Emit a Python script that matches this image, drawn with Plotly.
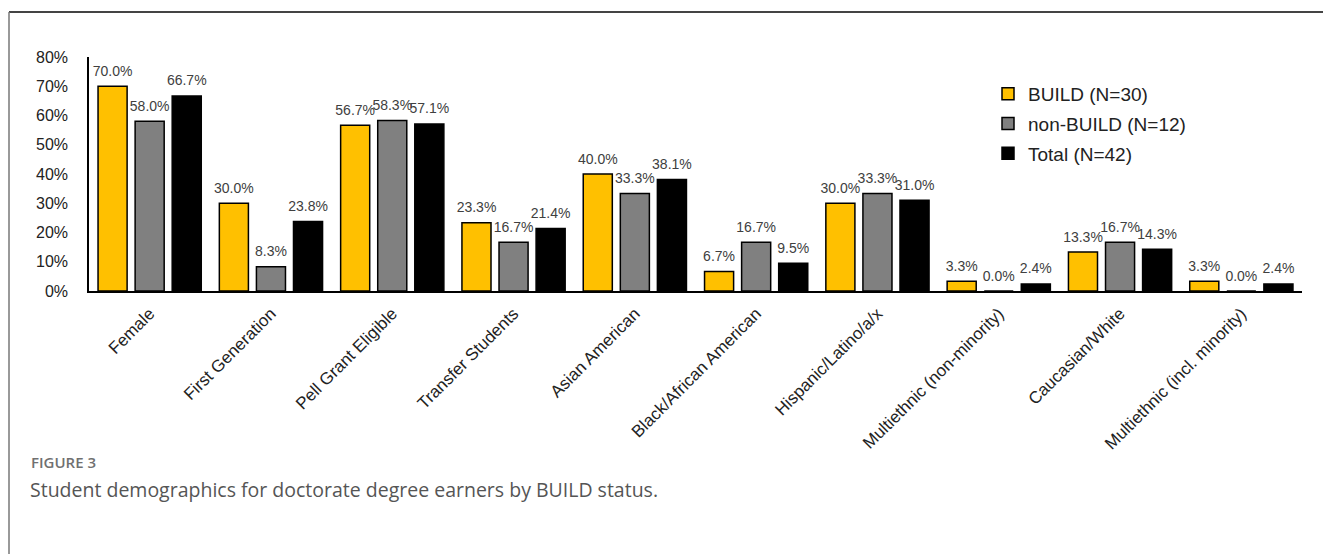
import plotly.graph_objects as go

categories = ["Female", "First Generation", "Pell Grant Eligible", "Transfer Students",
              "Asian American", "Black/African American", "Hispanic/Latino/a/x",
              "Multiethnic (non-minority)", "Caucasian/White", "Multiethnic (incl. minority)"]
build = [0.700, 0.300, 0.567, 0.233, 0.400, 0.067, 0.300, 0.033, 0.133, 0.033]
non_build = [0.580, 0.083, 0.583, 0.167, 0.333, 0.167, 0.333, 0.000, 0.167, 0.000]
total = [0.667, 0.238, 0.571, 0.214, 0.381, 0.095, 0.310, 0.024, 0.143, 0.024]
series_names = ["BUILD (N=30)", "non-BUILD (N=12)", "Total (N=42)"]
series_values = [build, non_build, total]
series_colors = ["#FFC000", "#808080", "#000000"]

W, H = 1323, 554
ML, MR, MT, MB = 89, 21, 57, 263
PW, PH = W - ML - MR, H - MT - MB

def px(x):
    return (x - ML) / PW

def py(y):
    return (MT + PH - y) / PH

fig = go.Figure()
for i, (name, vals, col) in enumerate(zip(series_names, series_values, series_colors)):
    fig.add_trace(go.Bar(
        x=categories, y=vals, name=name, legendgroup=str(i),
        marker=dict(color=col, line=dict(color="#000000", width=1.5)),
        texttemplate="<span style='font-size:14px'>%{y:.1%}</span><br>&nbsp;",
        textposition="outside", cliponaxis=False,
        constraintext="none",
        textfont=dict(family="Liberation Sans, Arial, sans-serif", size=5, color="#404040"),
    ))

fig.update_layout(
    width=W, height=H,
    margin=dict(l=ML, r=MR, t=MT, b=MB, autoexpand=False),
    paper_bgcolor="white", plot_bgcolor="white",
    barmode="group", bargap=0.083, bargroupgap=0.216,
    font=dict(family="Liberation Sans, Arial, sans-serif", color="#222222"),
    legend=dict(x=px(988), y=py(75), xanchor="left", yanchor="top",
                traceorder="grouped", tracegroupgap=2,
                font=dict(size=19, color="#222222"), bgcolor="rgba(0,0,0,0)"),
    xaxis=dict(showline=True, linecolor="#000000", linewidth=2, tickangle=-45,
               tickfont=dict(size=17, color="#222222"), showgrid=False, ticks="",
               ticklabelstandoff=4),
    yaxis=dict(range=[0, 0.8], dtick=0.1, tickformat=".0%", showline=True,
               linecolor="#000000", linewidth=1.5, showgrid=False, zeroline=False,
               ticks="", ticklabelstandoff=16,
               tickfont=dict(size=16, color="#222222")),
    shapes=[
        dict(type="line", xref="paper", yref="paper", x0=px(9), x1=px(W + 5),
             y0=py(12), y1=py(12), line=dict(color="#444444", width=2)),
        dict(type="line", xref="paper", yref="paper", x0=px(9), x1=px(9),
             y0=py(12), y1=py(H + 5), line=dict(color="#777777", width=1.5)),
    ],
    annotations=[
        dict(text="FIGURE 3", xref="paper", yref="paper", x=px(29), y=py(462),
             xanchor="left", yanchor="middle", showarrow=False,
             font=dict(family="Open Sans, sans-serif", size=15, weight=600, color="#707070")),
        dict(text="Student demographics for doctorate degree earners by BUILD status.",
             xref="paper", yref="paper", x=px(28), y=py(489),
             xanchor="left", yanchor="middle", showarrow=False,
             font=dict(family="Open Sans, sans-serif", size=19.5, color="#555555")),
    ],
)

fig.write_html("out.html")
